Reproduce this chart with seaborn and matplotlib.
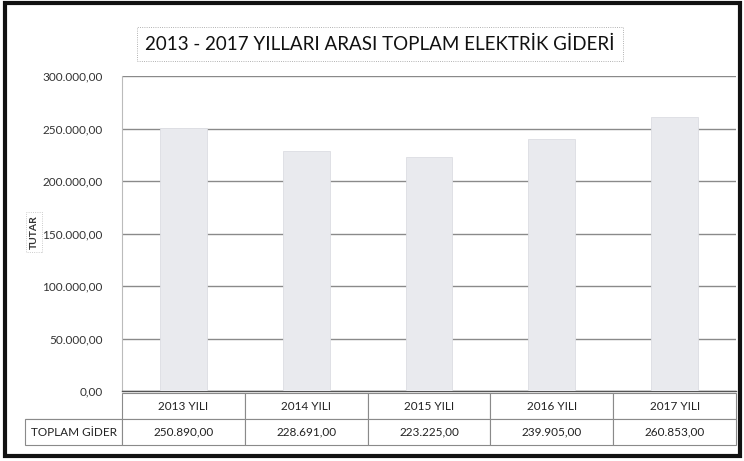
import matplotlib
matplotlib.use("Agg")
import matplotlib.pyplot as plt
import seaborn as sns
import pandas as pd
from matplotlib.patches import Rectangle
from matplotlib.ticker import FuncFormatter, MultipleLocator

years = ["2013 YILI", "2014 YILI", "2015 YILI", "2016 YILI", "2017 YILI"]
values = [250890.00, 228691.00, 223225.00, 239905.00, 260853.00]
title = "2013 - 2017 YILLARI ARASI TOPLAM ELEKTRİK GİDERİ"
ylabel = "TUTAR"
row_label = "TOPLAM GİDER"

sns.set_theme(style="white")
plt.rcParams['font.family'] = ['Lato', 'DejaVu Sans']

def tr_fmt(v, pos=None):
    s = f"{v:,.2f}"
    return s.replace(",", "X").replace(".", ",").replace("X", ".")

df = pd.DataFrame({"year": years, "value": values})

fig = plt.figure(figsize=(7.44, 4.61), dpi=100)
ax = fig.add_axes([122/744, 1-391/461, (736-122)/744, (391-76)/461])

sns.barplot(data=df, x="year", y="value", color="#e9eaee", width=0.38,
            saturation=1, ax=ax, edgecolor="#dcdde2", linewidth=0.6, zorder=3)

ax.set_ylim(0, 300000)
ax.yaxis.set_major_locator(MultipleLocator(50000))
ax.yaxis.set_major_formatter(FuncFormatter(tr_fmt))
ax.grid(axis="y", color="#8a8a8a", linewidth=1.0, zorder=0)
ax.set_axisbelow(True)
ax.tick_params(axis="y", labelsize=8.5, colors="#333333", pad=14, length=0)
ax.set_xticks([])
ax.set_xlabel("")
ax.set_ylabel("")
for s in ["top", "right"]:
    ax.spines[s].set_visible(False)
ax.spines["left"].set_color("#bbbbbb")
ax.spines["left"].set_linewidth(0.8)
ax.spines["bottom"].set_color("#555555")
ax.spines["bottom"].set_linewidth(1.0)

# y label boxed
fig.text(34/744, 1-232/461, ylabel, rotation=90, ha="center", va="center",
         fontsize=7.5, fontweight="bold", color="#333333",
         bbox=dict(boxstyle="square,pad=0.3", fc="white", ec="#bbbbbb", lw=0.6, ls=":"))

# title boxed
fig.text(380/744, 1-44/461, title, ha="center", va="center", fontsize=13.5,
         color="#111111",
         bbox=dict(boxstyle="square,pad=0.45", fc="white", ec="#999999", lw=0.6, ls=":"))

# data table below
cell_text = [[""] + years, [row_label] + [tr_fmt(v) for v in values]]
left_w = 97 / 614
col_w = [left_w] + [1/5] * 5
tbl = ax.table(cellText=cell_text, colWidths=col_w, cellLoc="center",
               bbox=[-left_w, -54/315, 1 + left_w, 52/315])
tbl.auto_set_font_size(False)
tbl.set_fontsize(8.5)
for (r, c), cell in tbl.get_celld().items():
    cell.set_edgecolor("#8a8a8a")
    cell.set_linewidth(0.8)
    cell.get_text().set_color("#222222")
    if r == 0 and c == 0:
        cell.visible_edges = "B"

# figure frame
fig.patches.append(Rectangle((5/744, 5/461), 735/744, 453/461, transform=fig.transFigure,
                             fill=False, ec="#111111", lw=3))

fig.savefig("out.png", dpi=100, facecolor="white")
